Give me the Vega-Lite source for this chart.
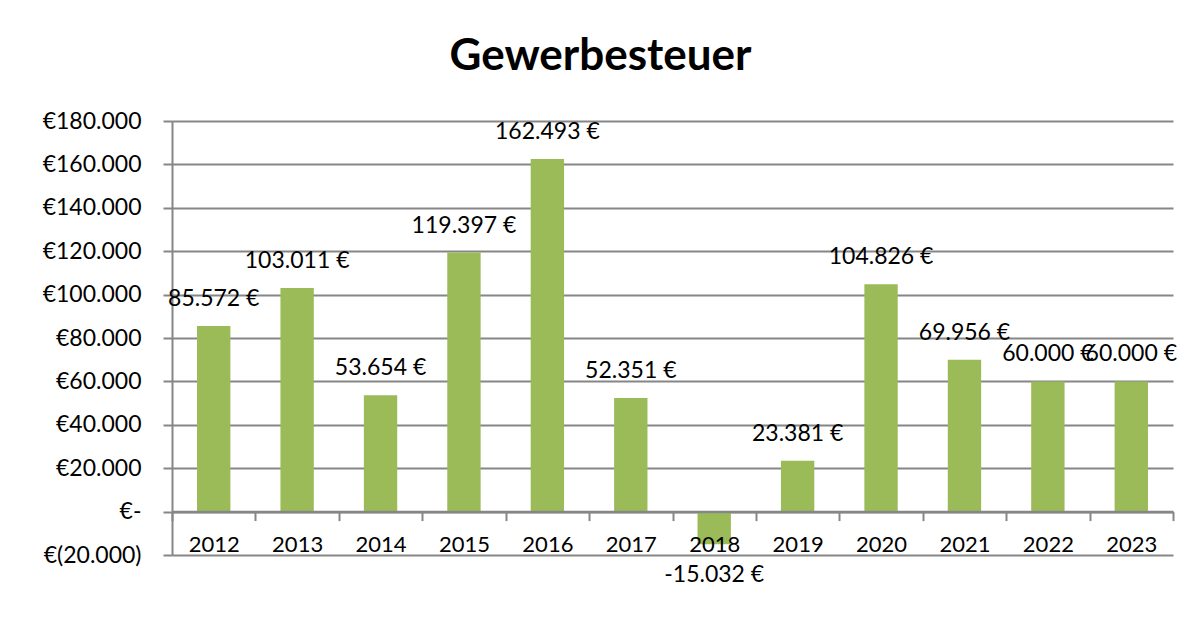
{
  "$schema": "https://vega.github.io/schema/vega-lite/v6.json",
  "width": 1001,
  "height": 434,
  "autosize": {"type": "none"},
  "padding": {"left": 172, "top": 121, "right": 19, "bottom": 68},
  "background": "white",
  "config": {
    "font": "Lato",
    "view": {"stroke": null},
    "locale": {
      "number": {"decimal": ",", "thousands": ".", "grouping": [3], "currency": ["", " €"], "minus": "-"}
    }
  },
  "title": {
    "text": "Gewerbesteuer",
    "font": "Lato",
    "fontSize": 44,
    "fontWeight": "bold",
    "color": "#000000",
    "anchor": "middle",
    "dx": -72,
    "dy": 52,
    "baseline": "alphabetic",
    "offset": 48
  },
  "data": {
    "values": [
      {"Jahr": "2012", "Betrag": 85572},
      {"Jahr": "2013", "Betrag": 103011},
      {"Jahr": "2014", "Betrag": 53654},
      {"Jahr": "2015", "Betrag": 119397},
      {"Jahr": "2016", "Betrag": 162493},
      {"Jahr": "2017", "Betrag": 52351},
      {"Jahr": "2018", "Betrag": -15032},
      {"Jahr": "2019", "Betrag": 23381},
      {"Jahr": "2020", "Betrag": 104826},
      {"Jahr": "2021", "Betrag": 69956},
      {"Jahr": "2022", "Betrag": 60000},
      {"Jahr": "2023", "Betrag": 60000}
    ]
  },
  "encoding": {
    "x": {
      "field": "Jahr",
      "type": "nominal",
      "sort": null,
      "scale": {"paddingInner": 0, "paddingOuter": 0},
      "axis": {
        "title": null,
        "orient": "bottom",
        "offset": -43.4,
        "zindex": 1,
        "labelAngle": 0,
        "labelFont": "Lato",
        "labelFontSize": 22,
        "labelColor": "#000000",
        "labelPadding": 14,
        "tickBand": "extent",
        "tickSize": 9,
        "tickWidth": 2,
        "tickColor": "#868686",
        "domainColor": "#868686",
        "domainWidth": 2.5,
        "grid": false
      }
    },
    "y": {
      "field": "Betrag",
      "type": "quantitative",
      "scale": {"domain": [-20000, 180000], "nice": false, "zero": false},
      "axis": {
        "title": null,
        "values": [-20000, 0, 20000, 40000, 60000, 80000, 100000, 120000, 140000, 160000, 180000],
        "labelExpr": "datum.value == 0 ? '€-' : (datum.value < 0 ? '€(' + replace(format(-datum.value, ',.0f'), ',', '.') + ')' : '€' + replace(format(datum.value, ',.0f'), ',', '.'))",
        "labelFont": "Lato",
        "labelFontSize": 23,
        "labelColor": "#000000",
        "labelPadding": 22,
        "tickSize": 9,
        "tickWidth": 2,
        "tickColor": "#868686",
        "domainColor": "#868686",
        "domainWidth": 2,
        "grid": true,
        "gridColor": "#868686",
        "gridWidth": 2,
        "gridOpacity": 1
      }
    }
  },
  "layer": [
    {
      "mark": {"type": "bar", "color": "#9BBB59", "width": {"band": 0.4}}
    },
    {
      "transform": [{"filter": "datum.Betrag >= 0"}],
      "mark": {"type": "text", "baseline": "alphabetic", "dy": -20, "fontSize": 23, "font": "Lato", "color": "#000000"},
      "encoding": {"text": {"field": "Betrag", "type": "quantitative", "format": "$,.0f"}}
    },
    {
      "transform": [{"filter": "datum.Betrag < 0"}],
      "mark": {"type": "text", "baseline": "top", "dy": 20, "fontSize": 23, "font": "Lato", "color": "#000000"},
      "encoding": {"text": {"field": "Betrag", "type": "quantitative", "format": "$,.0f"}}
    }
  ]
}
